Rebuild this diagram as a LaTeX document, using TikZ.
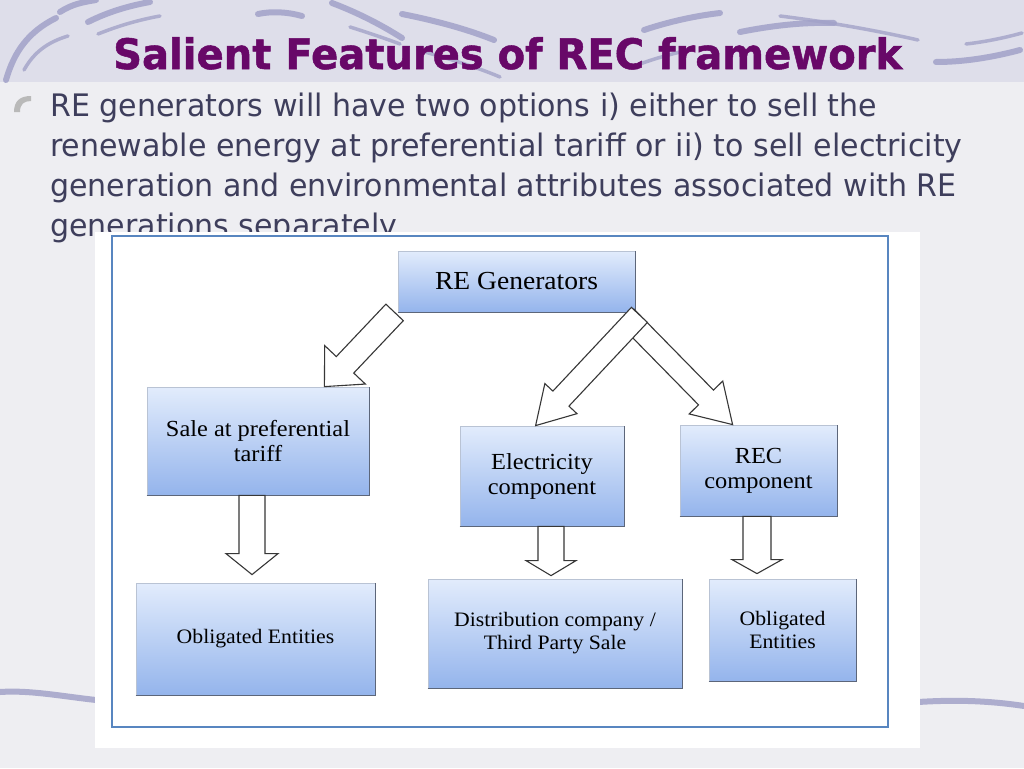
\documentclass[tikz,border=0pt]{standalone}
\usepackage{fontspec}
\usepackage{graphicx}
\usetikzlibrary{calc}
\setmainfont{Liberation Serif}
\newfontfamily\boxfont[FakeStretch=1.06]{Liberation Serif}
\newfontfamily\bodyfont{DejaVu Sans}
\newfontfamily\titlefont[FakeBold=1.2]{DejaVu Sans}
\definecolor{bgc}{RGB}{238,238,242}
\definecolor{bandc}{RGB}{222,222,234}
\definecolor{swirlc}{RGB}{162,162,200}
\definecolor{titlec}{RGB}{104,8,104}
\definecolor{bodyc}{RGB}{62,62,92}
\definecolor{framec}{RGB}{88,134,192}
\definecolor{boxtop}{RGB}{226,236,252}
\definecolor{boxbot}{RGB}{148,180,236}
\definecolor{boxedge}{RGB}{185,195,212}
\definecolor{boxshad}{RGB}{92,102,122}
\definecolor{arrc}{RGB}{55,55,55}
\newlength\Lbody
\newlength\Ltitle
\newcommand\blockarr[5]{%
  \coordinate (tmpb) at ($(#2)!#5!(#1)$);
  \draw[barrow] ($(#1)!#3!90:(#2)$) -- ($(tmpb)!#3!90:(#2)$) -- ($(tmpb)!#4!90:(#2)$) -- (#2)
     -- ($(tmpb)!#4!-90:(#2)$) -- ($(tmpb)!#3!-90:(#2)$) -- ($(#1)!#3!-90:(#2)$) -- cycle;}
\tikzset{
  swirl/.style={line width=6pt, line cap=round, draw=swirlc, opacity=0.85},
  thinswirl/.style={line width=3.5pt, line cap=round, draw=swirlc, opacity=0.8},
  gbox/.style={rectangle, inner sep=0pt, top color=boxtop, bottom color=boxbot,
               draw=boxedge, line width=0.8pt, align=center, text=black},
  shadowline/.style={draw=boxshad, line width=1.8pt},
  barrow/.style={draw=arrc, fill=white, line width=1.1pt, line join=miter},
  fbig/.style={font=\boxfont\fontsize{26}{28}\selectfont},
  fmid/.style={font=\boxfont\fontsize{23}{25}\selectfont},
  fsmall/.style={font=\boxfont\fontsize{20.5}{23}\selectfont},
  bodyline/.style={anchor=base west, inner sep=0pt, text=bodyc}
}
\begin{document}
\settowidth\Ltitle{\titlefont\bfseries\fontsize{42}{48}\selectfont Salient Features of REC framework}%
\settowidth\Lbody{\bodyfont\fontsize{31}{36}\selectfont RE generators will have two options i) either to sell the}%
\pgfmathsetmacro\tfac{789/\Ltitle}%
\pgfmathsetmacro\bfac{827/\Lbody}%
\begin{tikzpicture}[x=1pt,y=-1pt]
\useasboundingbox (0,0) rectangle (1024,768);
% background
\fill[bgc] (0,0) rectangle (1024,768);
\fill[bandc] (0,0) rectangle (1024,82);
% swirls (top band)
\draw[swirl] (6,80) .. controls (14,52) and (28,32) .. (56,18);
\draw[thinswirl] (24,70) .. controls (34,52) and (48,42) .. (68,36);
\draw[swirl] (60,12) .. controls (72,4) and (84,2) .. (96,0);
\draw[swirl] (88,22) .. controls (108,12) and (128,6) .. (150,2);
\draw[thinswirl] (98,34) .. controls (118,26) and (138,20) .. (160,16);
\draw[swirl] (258,14) .. controls (272,11) and (288,12) .. (302,16);
\draw[swirl] (332,3) .. controls (356,12) and (380,24) .. (402,38);
\draw[thinswirl] (350,27) .. controls (366,32) and (384,38) .. (400,44);
\draw[swirl] (402,14) .. controls (432,20) and (464,28) .. (494,40);
\draw[thinswirl] (418,50) .. controls (446,58) and (474,66) .. (500,77);
\draw[swirl] (644,30) .. controls (668,22) and (694,16) .. (720,13);
\draw[thinswirl] (640,64) .. controls (656,58) and (672,54) .. (688,50);
\draw[swirl] (740,32) .. controls (770,26) and (802,22) .. (834,23);
\draw[thinswirl] (780,16) .. controls (828,22) and (874,30) .. (918,40);
\draw[swirl] (936,62) .. controls (962,62) and (990,58) .. (1020,50);
\draw[thinswirl] (966,44) .. controls (984,42) and (1004,38) .. (1022,33);
% bottom swirls
\draw[swirl] (0,692) .. controls (30,690) and (60,696) .. (96,700);
\draw[swirl] (918,702) .. controls (950,700) and (985,700) .. (1024,706);
% title
\node[anchor=base west, inner sep=0pt, text=titlec] (title) at (113,69)
  {\scalebox{\tfac}[1]{\titlefont\bfseries\fontsize{42}{48}\selectfont Salient Features of REC framework}};
% bullet
\fill[gray!55] (14,112) .. controls (14,101) and (20,96) .. (31,96) -- (31,101)
  .. controls (24,101) and (20,104) .. (20,112) -- cycle;
% body text
\node[bodyline] (body1) at (50,116) {\scalebox{\bfac}[1]{\bodyfont\fontsize{31}{36}\selectfont RE generators will have two options i) either to sell the}};
\node[bodyline] (body2) at (50,156) {\scalebox{\bfac}[1]{\bodyfont\fontsize{31}{36}\selectfont renewable energy at preferential tariff or ii) to sell electricity}};
\node[bodyline] (body3) at (50,196) {\scalebox{\bfac}[1]{\bodyfont\fontsize{31}{36}\selectfont generation and environmental attributes associated with RE}};
\node[bodyline] (body4) at (50,236) {\scalebox{\bfac}[1]{\bodyfont\fontsize{31}{36}\selectfont generations separately}};
% diagram panel
\fill[white] (95,232) rectangle (920,748);
\draw[framec, line width=2.5pt] (112,236) rectangle (888,727);
% boxes
\node[gbox, fbig, minimum width=237pt, minimum height=61pt] (reg) at (516.5,281.5) {RE Generators};
\node[gbox, fmid, minimum width=222pt, minimum height=108pt] (sale) at (258,441) {Sale at preferential\\tariff};
\node[gbox, fmid, minimum width=164pt, minimum height=100pt] (elec) at (542,476) {Electricity\\component};
\node[gbox, fmid, minimum width=157pt, minimum height=91pt] (rec) at (758.5,470.5) {REC\\component};
\node[gbox, fsmall, minimum width=239pt, minimum height=112pt] (obl1) at (255.5,639) {Obligated Entities};
\node[gbox, fsmall, minimum width=254pt, minimum height=109pt] (dist) at (555,633.5) {Distribution company /\\Third Party Sale};
\node[gbox, fsmall, minimum width=147pt, minimum height=102pt] (obl2) at (782.5,630) {Obligated\\Entities};
\foreach \n in {reg,sale,elec,rec,obl1,dist,obl2}{
  \draw[shadowline] (\n.south west) -- (\n.south east) -- (\n.north east);
}
% arrow end points
\coordinate (a1s) at ($(reg.south west)+(-3,0)$);
\coordinate (a1t) at ($(sale.north east)+(-45,0)$);
\coordinate (a2s) at ($(reg.south east)+(4,2.5)$);
\coordinate (a2t) at ($(elec.north west)+(76,0)$);
\coordinate (a3s) at ($(reg.south east)+(-9,4)$);
\coordinate (a3t) at ($(rec.north west)+(53,0)$);
\coordinate (d1s) at ($(sale.south)+(-6,0)$);
\coordinate (d1t) at ($(obl1.north)+(-3.5,-8)$);
\coordinate (d2s) at ($(elec.south)+(9,0)$);
\coordinate (d2t) at ($(dist.north)+(-4,-3)$);
\coordinate (d3s) at ($(rec.south)+(-1.5,0)$);
\coordinate (d3t) at ($(obl2.north)+(-25.5,-5)$);
% block arrows
\blockarr{a1s}{a1t}{12pt}{28pt}{30pt}
\blockarr{a3s}{a3t}{10.5pt}{23.5pt}{38pt}
\blockarr{a2s}{a2t}{11pt}{22pt}{37pt}
\blockarr{d1s}{d1t}{13pt}{26pt}{21pt}
\blockarr{d2s}{d2t}{13pt}{25pt}{15pt}
\blockarr{d3s}{d3t}{14pt}{25pt}{14pt}
\end{tikzpicture}
\end{document}
